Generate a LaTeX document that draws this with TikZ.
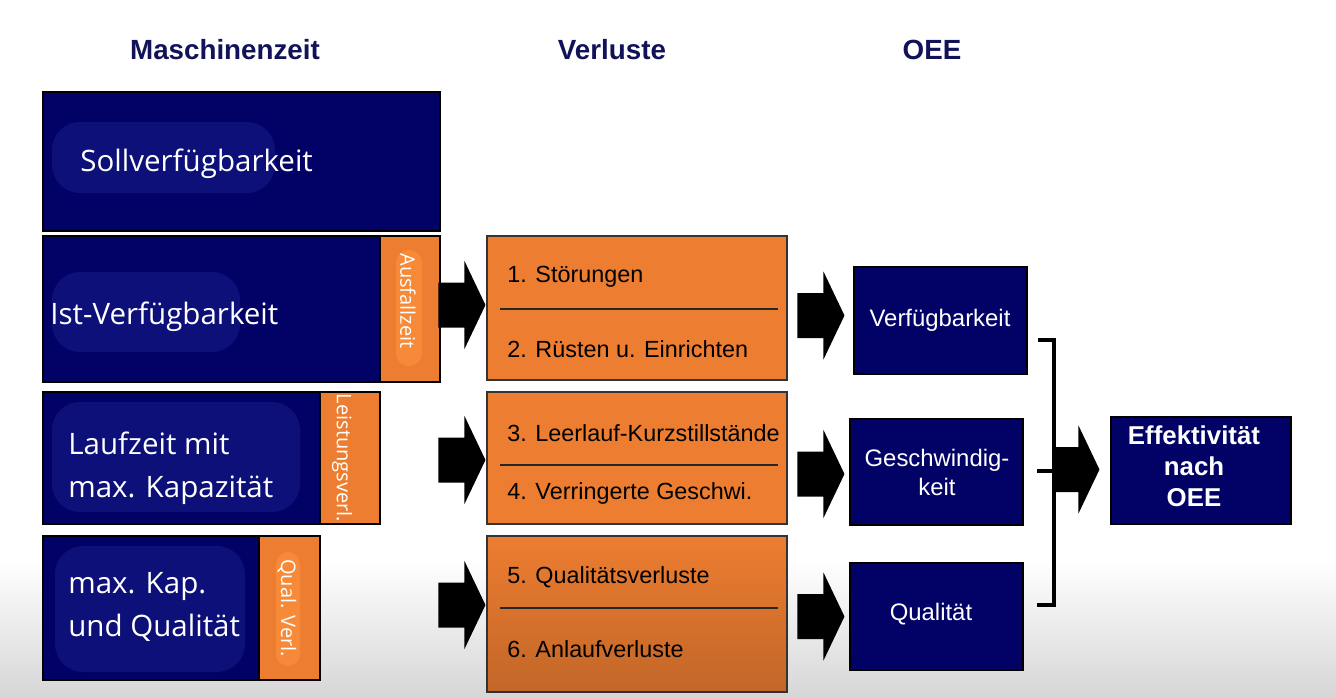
\documentclass[tikz,border=0pt]{standalone}
\usepackage{fontspec}
\setmainfont{Liberation Sans}
\newfontfamily\segoe{Open Sans}
\usetikzlibrary{calc,fit}

\definecolor{navy}{RGB}{2,2,102}
\definecolor{navyhell}{RGB}{12,16,120}
\definecolor{verlust}{RGB}{237,125,49}
\definecolor{verlusthell}{RGB}{246,138,56}
\definecolor{titelblau}{RGB}{18,18,88}

\begin{document}
\begin{tikzpicture}[
        x=0.02cm, y=-0.02cm,
        zeitbox/.style={draw=black, fill=navy, line width=0.6pt, inner sep=0pt},
        streifen/.style={draw=black, fill=verlust, line width=0.6pt, inner sep=0pt},
        verlustbox/.style={draw=black!80, fill=verlust, line width=0.6pt, inner sep=0pt},
        oeebox/.style={draw=black, fill=navy, line width=0.6pt, inner sep=0pt},
        titel/.style={font=\bfseries\fontsize{15.8}{18}\selectfont, text=titelblau},
        zeittext/.style={font=\segoe\fontsize{16.8}{24.5}\selectfont, text=white,
            align=left, anchor=west, inner sep=0pt},
        streifentext/.style={font=\segoe\fontsize{11.4}{13}\selectfont, text=white,
            rotate=-90, inner sep=0pt},
        verlusttext/.style={font=\fontsize{13.3}{15}\selectfont, anchor=west, inner sep=0pt},
        oeetext/.style={font=\fontsize{13.6}{16.5}\selectfont, text=white, align=center},
        fleck/.style={fill=navyhell, rounded corners=16pt},
        streifenfleck/.style={fill=verlusthell, rounded corners=7pt},
        trenn/.style={draw=black!85, line width=0.6pt},
        klammer/.style={draw=black, line width=2.3pt},
        pfeil/.pic={
            \fill[black] (0,-22.5) -- (26,-22.5) -- (26,-44) -- (47,0)
                -- (26,44) -- (26,22.5) -- (0,22.5) -- cycle;
        }
    ]
    % Hintergrund
    \useasboundingbox (0,0) rectangle (1336,697);
    \fill[white] (0,0) rectangle (1336,697);
    \shade[top color=white, bottom color=black!16] (0,560) rectangle (1336,697);

    % Ueberschriften
    \node[titel] (t-zeit) at (225,50) {Maschinenzeit};
    \node[titel] (t-verl) at (612,50) {Verluste};
    \node[titel] (t-oee) at (932,50) {OEE};

    % Maschinenzeit
    \node[zeitbox, fit={(43,92)(440,231)}] (soll) {};
    \node[zeitbox, fit={(43,236)(440,382)}] (ist) {};
    \node[streifen, fit={(380,236)(440,382)}] (ausfall) {};
    \node[zeitbox, fit={(43,392)(380,524)}] (lauf) {};
    \node[streifen, fit={(320,392)(380,524)}] (leistung) {};
    \node[zeitbox, fit={(43,536)(320,680)}] (maxkap) {};
    \node[streifen, fit={(259,536)(320,680)}] (qualverl) {};

    \fill[fleck] (52,122) rectangle (275,193);
    \fill[fleck] (52,272) rectangle (240,352);
    \fill[fleck] (52,402) rectangle (300,512);
    \fill[fleck] (55,546) rectangle (245,672);
    \fill[streifenfleck] (396,250) rectangle (422,366);
    \fill[streifenfleck] (276,552) rectangle (300,666);

    \node[zeittext] (t-soll) at (80,164) {Sollverfügbarkeit};
    \node[zeittext] (t-ist) at (50,317) {Ist-Verfügbarkeit};
    \node[zeittext] (t-lauf) at (68,468) {Laufzeit mit\\max. Kapazität};
    \node[zeittext] (t-maxkap) at (68,607) {max. Kap.\\und Qualität};

    \node[streifentext] (t-ausfall) at (408,301) {Ausfallzeit};
    \node[streifentext] (t-leistung) at (342,458) {Leistungsverl.};
    \node[streifentext] (t-qualverl) at (287,608) {Qual. Verl.};

    % Verluste
    \node[verlustbox, fit={(487,236)(787,380)}] (v-ausfall) {};
    \node[verlustbox, fit={(487,392)(787,524)}] (v-leistung) {};
    \node[verlustbox, top color=verlust, bottom color=verlust!82!black,
        fit={(487,536)(787,692)}] (v-qual) {};

    \draw[trenn] (500,309) -- (778,309);
    \draw[trenn] (500,465) -- (778,465);
    \draw[trenn] (500,608) -- (778,608);

    \node[verlusttext] (t-stoer) at (507,277) {1. Störungen};
    \node[verlusttext] (t-ruest) at (507,349) {2. Rüsten u. Einrichten};
    \node[verlusttext] (t-leer) at (507,433) {3. Leerlauf-Kurzstillstände};
    \node[verlusttext] (t-geschw) at (507,493) {4. Verringerte Geschwi.};
    \node[verlusttext] (t-qualv) at (507,577) {5. Qualitätsverluste};
    \node[verlusttext] (t-anlauf) at (507,649) {6. Anlaufverluste};

    % OEE
    \node[oeebox, fit={(854,267)(1027,374)}] (verf) {};
    \node[oeebox, fit={(850,419)(1023,525)}] (geschw) {};
    \node[oeebox, fit={(850,563)(1023,670)}] (qual) {};
    \node[oeebox, fit={(1111,417)(1291,524)}] (effekt) {};

    \node[oeetext] (t-verf) at (940,320) {Verfügbarkeit};
    \node[oeetext] (t-gesch) at (937,472) {Geschwindig-\\keit};
    \node[oeetext] (t-qual) at (931,614) {Qualität};
    \node[oeetext, font=\bfseries\fontsize{14.7}{17.6}\selectfont] (t-effekt) at (1194,466)
        {Effektivität\\nach\\OEE};

    % Blockpfeile
    \pic at ($(v-ausfall.west)+(-48,-3)$) {pfeil};
    \pic at ($(v-leistung.west)+(-48,2)$) {pfeil};
    \pic at ($(v-qual.west)+(-48,-9)$) {pfeil};
    \pic at ($(verf.west)+(-56,-5)$) {pfeil};
    \pic at ($(geschw.west)+(-52,2)$) {pfeil};
    \pic at ($(qual.west)+(-52,0)$) {pfeil};
    \pic at ($(effekt.west)+(-58,-1)$) {pfeil};

    % Klammer
    \coordinate (k-oben) at (1038,340);
    \coordinate (k-eckoben) at (1054,340);
    \coordinate (k-eckunten) at (1054,605);
    \coordinate (k-unten) at (1037,605);
    \coordinate (k-mitte) at (1037,471);
    \coordinate (k-mitterechts) at (1054,471);
    \draw[klammer] (k-oben) -- (k-eckoben) -- (k-eckunten) -- (k-unten);
    \draw[klammer] (k-mitte) -- (k-mitterechts);
\end{tikzpicture}
\end{document}
